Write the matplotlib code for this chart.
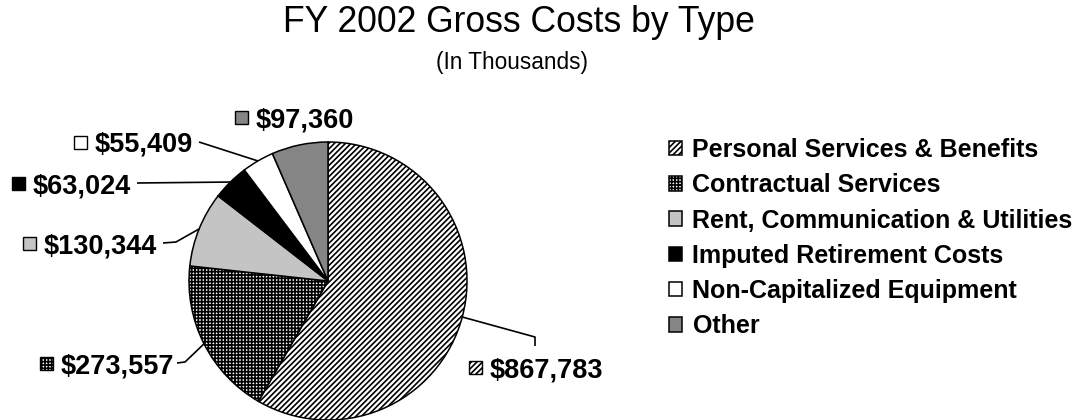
import matplotlib
matplotlib.use("Agg")
import matplotlib.pyplot as plt
from matplotlib.patches import Rectangle
import numpy as np

# Cost categories (in thousands of dollars)
categories = [
    "Personal Services & Benefits",
    "Contractual Services",
    "Rent, Communication & Utilities",
    "Imputed Retirement Costs",
    "Non-Capitalized Equipment",
    "Other",
]
costs = [867783, 273557, 130344, 63024, 55409, 97360]
value_labels = ["$867,783", "$273,557", "$130,344", "$63,024", "$55,409", "$97,360"]

face_colors = ["white", "white", "#c4c4c4", "black", "white", "#858585"]
hatches = ["//////", "+++++", None, None, None, None]

plt.rcParams["font.family"] = ["Liberation Sans", "DejaVu Sans"]
plt.rcParams["hatch.linewidth"] = 1.2

W, H = 1086, 420
fig = plt.figure(figsize=(W / 100, H / 100), dpi=100)
ax = fig.add_axes([0, 0, 1, 1])


def Y(y):
    """Convert a top-down pixel row into the axes' bottom-up coordinate."""
    return H - y


center = (328, Y(281))
radius = 139

wedges, _ = ax.pie(
    costs,
    startangle=90,
    counterclock=False,
    center=center,
    radius=radius,
    colors=face_colors,
    wedgeprops=dict(edgecolor="black", linewidth=1.1),
    frame=True,
)
for w, h in zip(wedges, hatches):
    if h:
        w.set_hatch(h)
ax.set_xlim(0, W)
ax.set_ylim(0, H)
ax.set_aspect("equal")
ax.axis("off")


def edge_point(w):
    mid = np.deg2rad((w.theta1 + w.theta2) / 2)
    return (center[0] + radius * np.cos(mid), center[1] + radius * np.sin(mid))


# Value label layout: marker left x, row y, leader bend points
label_layout = {
    0: dict(x=469, y=367, path_from_edge=[(535, 337), (535, 346)]),
    1: dict(x=40, y=363, path_to_edge=[(177, 363), (185, 362)]),
    2: dict(x=23, y=243, path_to_edge=[(163, 243), (176, 242)]),
    3: dict(x=12, y=183, path_to_edge=[(137, 183)]),
    4: dict(x=74, y=142, path_to_edge=[(199, 142)]),
    5: dict(x=235, y=117),
}

msize = 13
for i, lay in label_layout.items():
    w = wedges[i]
    mx, my = lay["x"], Y(lay["y"])
    ax.add_patch(Rectangle((mx, my - msize / 2), msize, msize,
                           facecolor=face_colors[i], edgecolor="black",
                           linewidth=1.0, hatch=hatches[i]))
    ax.text(mx + 21, my, value_labels[i], fontsize=19.5, fontweight="bold",
            ha="left", va="center_baseline", color="black")
    ex, ey = edge_point(w)
    if "path_to_edge" in lay:
        pts = [(px, Y(py)) for px, py in lay["path_to_edge"]] + [(ex, ey)]
    elif "path_from_edge" in lay:
        pts = [(ex, ey)] + [(px, Y(py)) for px, py in lay["path_from_edge"]]
    else:
        pts = []
    if pts:
        xs, ys = zip(*pts)
        ax.plot(xs, ys, color="black", linewidth=1.2, solid_capstyle="butt")

# Legend
leg = ax.legend(
    wedges, categories,
    loc="upper left",
    bbox_to_anchor=(669, Y(138)),
    bbox_transform=ax.transData,
    frameon=False,
    prop=dict(size=18, weight="bold"),
    handlelength=0.52, handleheight=0.52,
    handletextpad=0.42, labelspacing=0.45,
    borderpad=0, borderaxespad=0,
)

# Titles
ax.text(519, Y(22), "FY 2002 Gross Costs by Type", fontsize=25.6,
        ha="center", va="center", color="black")
ax.text(512, Y(62), "(In Thousands)", fontsize=16.3,
        ha="center", va="center", color="black")

fig.savefig("out.png", dpi=100)
